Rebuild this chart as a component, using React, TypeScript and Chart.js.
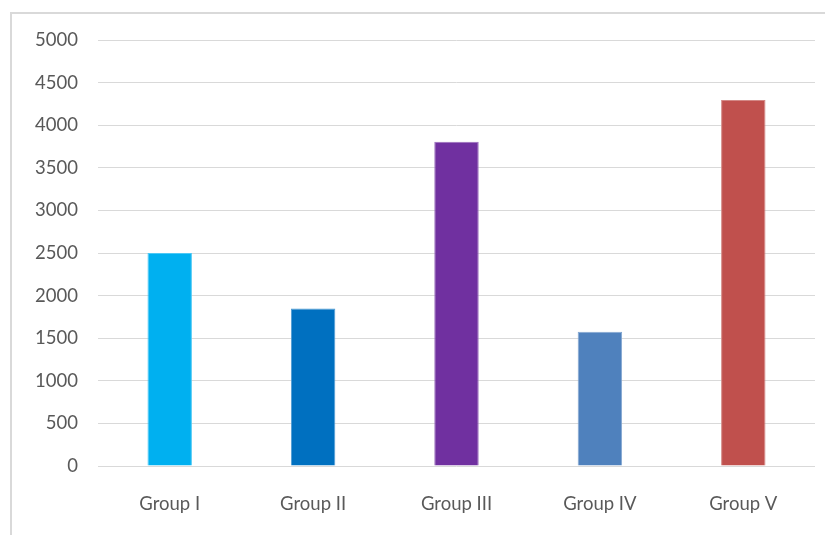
import React, { useEffect, useRef } from "react";
import { Chart, registerables } from "chart.js";

Chart.register(...registerables);

const categories = ["Group I", "Group II", "Group III", "Group IV", "Group V"];
const values = [2500, 1850, 3805, 1575, 4295];
const barColors = ["#00B0F0", "#0070C0", "#7030A0", "#4F81BD", "#C0504D"];
const barEdges = ["#4DC8F5", "#4D9BD3", "#9A6EBD", "#84A7D1", "#D38885"];
const yTicks = [0, 500, 1000, 1500, 2000, 2500, 3000, 3500, 4000, 4500, 5000];

export default function App() {
  const ref = useRef<HTMLCanvasElement | null>(null);
  useEffect(() => {
    document.body.style.margin = "0";
    const ctx = ref.current!.getContext("2d")!;
    const chart = new Chart(ctx, {
      type: "bar",
      data: {
        labels: categories,
        datasets: [
          {
            data: values,
            backgroundColor: barColors,
            borderColor: barEdges,
            borderWidth: 1,
            categoryPercentage: 1,
            barPercentage: 0.31,
          },
        ],
      },
      options: {
        animation: false,
        responsive: false,
        maintainAspectRatio: false,
        layout: { padding: { left: 0, right: 10, top: 40, bottom: 0 } },
        plugins: { legend: { display: false }, tooltip: { enabled: false } },
        scales: {
          x: {
            grid: { display: false, drawTicks: false },
            border: { display: false },
            ticks: { color: "#595959", font: { family: "Lato", size: 18.5 }, padding: 27 },
            afterFit: (s: any) => { s.height = 69; },
          },
          y: {
            min: 0,
            max: 5000,
            afterBuildTicks: (s: any) => { s.ticks = yTicks.map((v) => ({ value: v })); },
            grid: { color: "#D9D9D9", lineWidth: 1, drawTicks: false },
            border: { display: false },
            ticks: {
              color: "#595959",
              font: { family: "Lato", size: 18.5 },
              padding: 20,
              callback: (v: any) => String(v),
            },
            afterFit: (s: any) => { s.width = 98; },
          },
        },
      },
      plugins: [
        {
          id: "frame",
          beforeDraw: (c: any) => {
            const g = c.ctx;
            g.save();
            g.fillStyle = "#ffffff";
            g.fillRect(0, 0, c.width, c.height);
            g.strokeStyle = "#D9D9D9";
            g.lineWidth = 2;
            g.beginPath();
            g.moveTo(11, 540);
            g.lineTo(11, 13);
            g.lineTo(830, 13);
            g.stroke();
            g.restore();
          },
        },
      ],
    });
    return () => chart.destroy();
  }, []);
  return (
    <div style={{ position: "fixed", left: 0, top: 0, width: 825, height: 535 }}>
      <canvas ref={ref} width={825} height={535} style={{ width: 825, height: 535 }} />
    </div>
  );
}
